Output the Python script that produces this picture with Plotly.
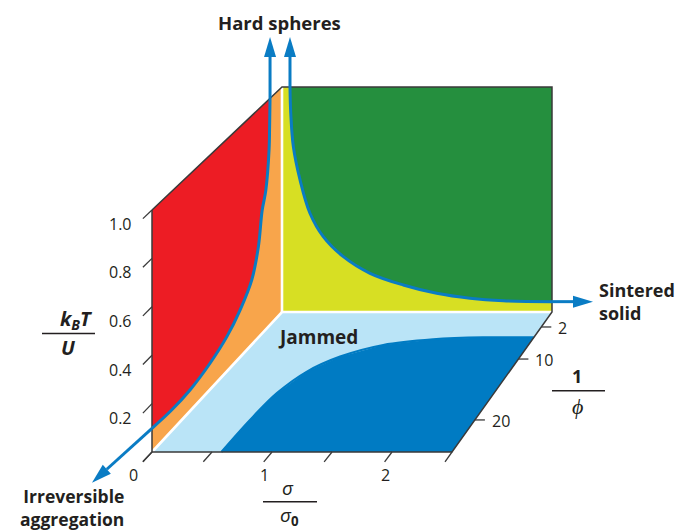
import numpy as np
import plotly.graph_objects as go

# ---------------- values ----------------
SIGMA_TICKS = [0, 0.5, 1, 1.5, 2, 2.5]
SIGMA_TICK_LABELS = ["0", "", "1", "", "2", ""]
KT_TICKS = [0, 0.2, 0.4, 0.6, 0.8, 1.0]
KT_TICK_LABELS = ["", "0.2", "0.4", "0.6", "0.8", "1.0"]
PHI_INV_TICKS = [2, 10, 20]
PHI_INV_TICK_LABELS = ["2", "10", "20"]

SIGMA_MAX = 2.5
KT_MAX = 1.0

# jamming line on the sigma/sigma0 = 0 wall: (1/phi, kT/U)
WALL_PHI_INV = [25, 21.7, 18.5, 15.0, 12.0, 9.5, 6.4, 4.6, 3.6, 2.6, 1.93, 1.89, 1.86]
WALL_KT = [0.098, 0.087, 0.089, 0.112, 0.150, 0.205, 0.282, 0.398, 0.54, 0.613, 0.776, 0.88, 1.0]

# jamming line on the dense back wall: (sigma/sigma0, kT/U)
BACK_SIGMA = [0.074, 0.081, 0.105, 0.167, 0.259, 0.382, 0.568, 0.815, 1.123, 1.432, 1.741, 2.049, 2.5]
BACK_KT = [1.0, 0.883, 0.735, 0.587, 0.439, 0.335, 0.246, 0.172, 0.12, 0.083, 0.061, 0.050, 0.046]

# jamming line on the kT/U = 0 floor: (sigma/sigma0, 1/phi)
FLOOR_SIGMA = [0.578, 0.582, 0.611, 0.708, 0.89, 1.19, 1.60, 2.04, 2.5]
FLOOR_PHI_INV = [25, 20, 15.6, 12.1, 9.4, 6.5, 5.1, 4.6, 4.6]

# ---------------- pseudo-3D projection ----------------
# depth scale of the 1/phi axis (0 = front plane, 1 = back plane)
PHI_INV_KNOTS = [1, 2, 10, 20, 25]
DEPTH_KNOTS = [1.0, 0.893, 0.664, 0.229, 0.0]

FRONT_ORIGIN = (152.0, 452.0)
BACK_ORIGIN = (282.0, 312.0)
FRONT_UNIT = (120.0, 242.0)   # px per unit sigma, kT on the front plane
BACK_UNIT = (108.0, 225.0)    # px per unit sigma, kT on the back plane

W, H = 677, 531

INK = "#231f20"
EDGE = "#3a3a3a"
LINE_BLUE = "#0a7cc4"
RED = "#ed1c24"
ORANGE = "#f8a54b"
YELLOW = "#d7df23"
GREEN = "#258f3e"
LIGHT_BLUE = "#bae4f7"
DARK_BLUE = "#007bc3"
FONT = "Open Sans"


def depth(phi_inv):
    return np.interp(phi_inv, PHI_INV_KNOTS, DEPTH_KNOTS)


def proj(s, k, t):
    s, k, t = (np.asarray(v, dtype=float) for v in (s, k, t))
    xf = FRONT_ORIGIN[0] + FRONT_UNIT[0] * s
    yf = FRONT_ORIGIN[1] - FRONT_UNIT[1] * k
    xb = BACK_ORIGIN[0] + BACK_UNIT[0] * s
    yb = BACK_ORIGIN[1] - BACK_UNIT[1] * k
    return xf * (1 - t) + xb * t, yf * (1 - t) + yb * t


fig = go.Figure()


def poly(x, y, color):
    fig.add_trace(go.Scatter(x=list(x), y=list(y), mode="lines", fill="toself",
                             fillcolor=color, line=dict(width=0, color=color),
                             hoverinfo="skip"))


def line(x, y, color, width, shape="linear"):
    fig.add_trace(go.Scatter(x=list(x), y=list(y), mode="lines",
                             line=dict(color=color, width=width, shape=shape,
                                       smoothing=1.0 if shape == "spline" else None),
                             hoverinfo="skip"))


def arrow(x0, y0, ux, uy, length, head_len=20, head_half=6):
    n = np.hypot(ux, uy)
    ux, uy = ux / n, uy / n
    tipx, tipy = x0 + ux * length, y0 + uy * length
    bx, by = tipx - ux * head_len, tipy - uy * head_len
    line([x0, bx], [y0, by], LINE_BLUE, 3)
    nx, ny = -uy, ux
    poly([tipx, bx + nx * head_half, bx - nx * head_half],
         [tipy, by + ny * head_half, by - ny * head_half], LINE_BLUE)


# ---- floor: kT/U = 0 ----
fx, fy = proj([0, SIGMA_MAX, SIGMA_MAX, 0], [0, 0, 0, 0], [0, 0, 1, 1])
poly(fx, fy, LIGHT_BLUE)
fl_t = depth(FLOOR_PHI_INV)
flx, fly = proj(FLOOR_SIGMA, np.zeros(len(FLOOR_SIGMA)), fl_t)
cx, cy = proj(SIGMA_MAX, 0, 0)
poly(list(flx) + [float(cx)], list(fly) + [float(cy)], DARK_BLUE)
line(flx, fly, DARK_BLUE, 2.2, "spline")   # smooth the boundary of the dark region

# ---- left wall: sigma = 0 ----
lx, ly = proj([0, 0, 0, 0], [0, 0, KT_MAX, KT_MAX], [0, 1, 1, 0])
poly(lx, ly, ORANGE)
wt = depth(WALL_PHI_INV)
wx, wy = proj(np.zeros(len(WALL_KT)), WALL_KT, wt)
tlx, tly = proj(0, KT_MAX, 0)
poly([float(tlx)] + list(wx[::-1]), [float(tly)] + list(wy[::-1]), RED)

# ---- back wall: dense limit ----
bx_, by_ = proj([0, SIGMA_MAX, SIGMA_MAX, 0], [0, 0, KT_MAX, KT_MAX], [1, 1, 1, 1])
poly(bx_, by_, YELLOW)
bkx, bky = proj(BACK_SIGMA, BACK_KT, np.ones(len(BACK_KT)))
trx, try_ = proj(SIGMA_MAX, KT_MAX, 1)
poly(list(bkx) + [float(trx)], list(bky) + [float(try_)], GREEN)

# ---- white seams between the three planes ----
sx, sy = proj([0, 0, SIGMA_MAX], [0, 0, 0], [0, 1, 1])
line(sx, sy, "white", 2.6)
sx, sy = proj([0, 0], [0, KT_MAX], [1, 1])
line(sx, sy, "white", 2.6)

# ---- box outline ----
ox, oy = proj([0, 0, SIGMA_MAX, SIGMA_MAX, SIGMA_MAX, 0, 0],
              [KT_MAX, 0, 0, 0, KT_MAX, KT_MAX, KT_MAX],
              [0, 0, 0, 1, 1, 1, 0])
line(ox, oy, EDGE, 1.5)

annotations = []
shapes = []
TICK_T = -0.07
TICK_FONT = dict(size=16, color=INK, family=FONT)

# sigma/sigma0 ticks along the front edge
for s, lab in zip(SIGMA_TICKS, SIGMA_TICK_LABELS):
    x0, y0 = proj(s, 0, 0)
    x1, y1 = proj(s, 0, TICK_T)
    line([x0, x1], [y0, y1], EDGE, 1.3)
    if lab:
        if s == 0:
            annotations.append(dict(x=float(x1) - 3, y=float(y1) + 13, text=lab,
                                    xanchor="right", yanchor="middle", showarrow=False,
                                    font=TICK_FONT))
        else:
            annotations.append(dict(x=float(x1) + 1, y=float(y1) + 13, text=lab,
                                    xanchor="center", yanchor="middle", showarrow=False,
                                    font=TICK_FONT))

# kT/U ticks along the front vertical edge
for k, lab in zip(KT_TICKS, KT_TICK_LABELS):
    x0, y0 = proj(0, k, 0)
    x1, y1 = proj(0, k, TICK_T)
    line([x0, x1], [y0, y1], EDGE, 1.3)
    if lab:
        annotations.append(dict(x=float(x1) - 9, y=float(y1) + 5, text=lab,
                                xanchor="right", yanchor="middle", showarrow=False,
                                font=TICK_FONT))

# 1/phi ticks along the right floor edge
for w, lab in zip(PHI_INV_TICKS, PHI_INV_TICK_LABELS):
    x0, y0 = proj(SIGMA_MAX, 0, depth(w))
    line([x0, x0 + 10], [y0, y0], EDGE, 1.3)
    annotations.append(dict(x=float(x0) + 15, y=float(y0) + 1, text=lab,
                            xanchor="left", yanchor="middle", showarrow=False,
                            font=TICK_FONT))

# ---- jamming lines ----
line(wx, wy, LINE_BLUE, 3, "spline")
line(bkx, bky, LINE_BLUE, 3, "spline")

# arrows leaving the box
arrow(float(wx[0]), float(wy[0]), -60, 54.4, 81)                # irreversible aggregation
arrow(float(wx[-1]), float(wy[-1]), 0, -1, float(wy[-1]) - 37)  # hard spheres (wall)
arrow(float(bkx[0]), float(bky[0]), 0, -1, float(bky[0]) - 37)  # hard spheres (back)
arrow(float(bkx[-1]), float(bky[-1]), 1, 0, 41)                 # sintered solid


# ---- text ----
def text(x, y, s, size=18, xanchor="center", align="center"):
    annotations.append(dict(x=x, y=y, text=s, xanchor=xanchor, yanchor="middle",
                            align=align, showarrow=False,
                            font=dict(size=size, color=INK, family=FONT)))


text(279, 22, "<b>Hard spheres</b>", size=18.5)
text(318, 337, "<b>Jammed</b>", size=19)
text(597, 301, "<b>Sintered<br>solid</b>", xanchor="left", align="left")
text(126, 507, "<b>Irreversible<br>aggregation</b>", size=17.5, xanchor="right", align="right")

# fraction labels
text(76, 319, "<b><i>k</i></b><sub><b><i>B</i></b></sub><b><i>T</i></b>", size=20)
text(68, 347, "<b><i>U</i></b>", size=20)
shapes.append(dict(type="line", x0=42, x1=95, y0=333.5, y1=333.5, xref="x", yref="y",
                   line=dict(color=INK, width=1.5)))

text(288, 488, "<i>σ</i>", size=19)
text(289, 516, "<i>σ</i><sub><b>0</b></sub>", size=19)
shapes.append(dict(type="line", x0=263, x1=317, y0=501.7, y1=501.7, xref="x", yref="y",
                   line=dict(color=INK, width=1.5)))

text(577, 376, "<b>1</b>", size=18)
text(577, 405, "<i>ϕ</i>", size=22)
shapes.append(dict(type="line", x0=552, x1=605, y0=390.7, y1=390.7, xref="x", yref="y",
                   line=dict(color=INK, width=1.5)))

fig.update_layout(
    width=W, height=H,
    margin=dict(l=0, r=0, t=0, b=0),
    paper_bgcolor="white", plot_bgcolor="white",
    showlegend=False,
    xaxis=dict(range=[0, W], visible=False, fixedrange=True),
    yaxis=dict(range=[H, 0], visible=False, fixedrange=True),
    annotations=annotations,
    shapes=shapes,
)

fig.write_html("out.html", config={"displayModeBar": False})
